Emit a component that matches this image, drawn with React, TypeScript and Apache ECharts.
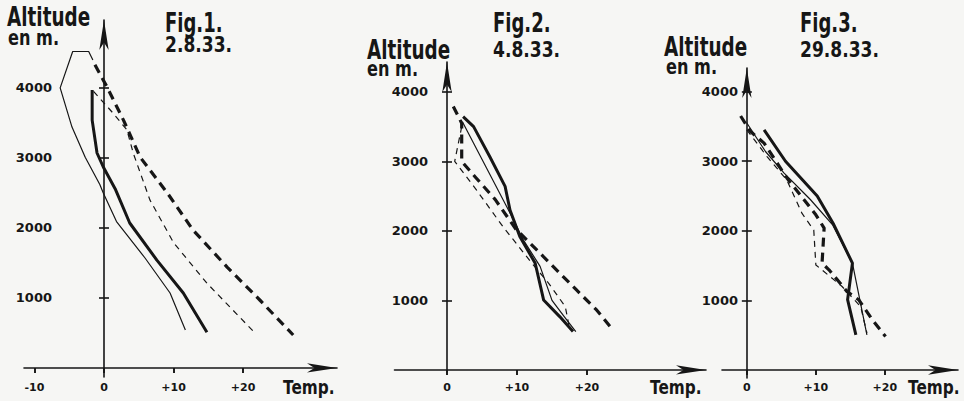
import React, { useEffect, useRef } from 'react';
import * as echarts from 'echarts';

// ---------- data (temperature °C, altitude m) ----------
const FIG1_THIN_SOLID = [[11.7, 540], [9.5, 1070], [5.9, 1570], [1.8, 2090], [-0.1, 2500], [-0.6, 2620], [-2.7, 3010], [-4.6, 3440], [-6.3, 4000], [-4.5, 4520], [-2.2, 4520], [-1.6, 4400]];
const FIG1_THICK_SOLID = [[14.8, 510], [11.4, 1070], [7.6, 1540], [3.7, 2070], [1.6, 2560], [-0.1, 2870], [-1.0, 3070], [-1.7, 3540], [-1.7, 3970]];
const FIG1_THIN_DASHED = [[-1.5, 3950], [1.3, 3640], [3.3, 3400], [4.2, 3070], [6.6, 2400], [10.0, 1790], [14.8, 1210], [21.7, 500]];
const FIG1_THICK_DASHED = [[-1.3, 4330], [0.4, 4020], [2.8, 3540], [5.2, 3010], [9.1, 2500], [12.8, 1970], [17.7, 1440], [22.4, 970], [27.2, 470]];

const FIG2_THIN_SOLID = [[2.2, 3570], [9.5, 2160], [10.9, 1870], [13.3, 1490], [15.0, 1000], [16.8, 760], [18.4, 550]];
const FIG2_THICK_SOLID = [[2.3, 3645], [3.8, 3500], [6.1, 3070], [8.3, 2640], [9.0, 2300], [10.4, 1920], [12.6, 1535], [13.8, 1007], [16.1, 767], [18.0, 551]];
const FIG2_THIN_DASHED = [[2.1, 3500], [1.1, 3000], [4.2, 2590], [8.0, 2060], [9.5, 1870], [12.0, 1550], [14.5, 1250], [16.9, 910], [17.5, 600]];
const FIG2_THICK_DASHED = [[0.9, 3790], [2.1, 3550], [2.1, 3000], [4.0, 2780], [6.9, 2450], [9.8, 2030], [11.4, 1870], [14.7, 1535], [18.5, 1150], [21.4, 860], [23.5, 600]];

const FIG3_THIN_SOLID = [[0.0, 3550], [2.7, 3140], [5.4, 2830], [9.2, 2450], [12.4, 2090], [15.3, 1535], [17.4, 505]];
const FIG3_THICK_SOLID = [[2.5, 3450], [5.6, 3000], [10.2, 2500], [12.6, 2090], [15.3, 1535], [14.6, 1010], [15.8, 505]];
const FIG3_THIN_DASHED = [[0.0, 3450], [2.9, 3070], [5.8, 2730], [8.0, 2250], [9.7, 2010], [10.0, 1510], [13.8, 1200], [16.5, 910], [17.4, 530]];
const FIG3_THICK_DASHED = [[-0.9, 3650], [0.5, 3430], [2.5, 3260], [5.8, 2760], [10.0, 2230], [11.2, 2040], [10.9, 1535], [11.9, 1440], [14.5, 1130], [16.2, 1010], [18.2, 720], [20.1, 480]];

const X_TICKS_FIG1 = [-10, 0, 10, 20];
const X_TICKS_FIG23 = [0, 10, 20];
const Y_TICKS = [1000, 2000, 3000, 4000];

const FIG_TITLES = ['Fig.1.', 'Fig.2.', 'Fig.3.'];
const FIG_DATES = ['2.8.33.', '4.8.33.', '29.8.33.'];
const Y_NAME = 'Altitude';
const Y_UNIT = 'en m.';
const X_NAME = 'Temp.';

const INK = '#161616';
const FONT = "'DejaVu Sans', sans-serif";

type Panel = {
  grid: { left: number; top: number; width: number; height: number };
  xMin: number; xMax: number; yMin: number; yMax: number;
  xTicks: number[]; yLabelMargin: number; xLabelMargin: number;
  series: { thinSolid: number[][]; thickSolid: number[][]; thinDashed: number[][]; thickDashed: number[][] };
  text: { alt: [number, number]; unit: [number, number]; fig: [number, number]; date: [number, number]; temp: [number, number] };
};

const PANELS: Panel[] = [
  {
    grid: { left: 24, top: 20, width: 313, height: 357 },
    xMin: -11.5, xMax: 33.5, yMin: -130, yMax: 4970,
    xTicks: X_TICKS_FIG1, yLabelMargin: -28, xLabelMargin: 5,
    series: { thinSolid: FIG1_THIN_SOLID, thickSolid: FIG1_THICK_SOLID, thinDashed: FIG1_THIN_DASHED, thickDashed: FIG1_THICK_DASHED },
    text: { alt: [7, 4], unit: [8, 27], fig: [165, 10], date: [165, 34.5], temp: [283, 378] },
  },
  {
    grid: { left: 394.5, top: 62, width: 311.5, height: 310 },
    xMin: -7.5, xMax: 37, yMin: -30, yMax: 4430,
    xTicks: X_TICKS_FIG23, yLabelMargin: -33.5, xLabelMargin: 10,
    series: { thinSolid: FIG2_THIN_SOLID, thickSolid: FIG2_THICK_SOLID, thinDashed: FIG2_THIN_DASHED, thickDashed: FIG2_THICK_DASHED },
    text: { alt: [367, 37], unit: [367, 58], fig: [493, 10], date: [493, 39.5], temp: [650, 378] },
  },
  {
    grid: { left: 722, top: 68, width: 236, height: 310 },
    xMin: -3.6, xMax: 30.6, yMin: -115, yMax: 4340,
    xTicks: X_TICKS_FIG23, yLabelMargin: -16, xLabelMargin: 4,
    series: { thinSolid: FIG3_THIN_SOLID, thickSolid: FIG3_THICK_SOLID, thinDashed: FIG3_THIN_DASHED, thickDashed: FIG3_THICK_DASHED },
    text: { alt: [664, 34], unit: [666, 56], fig: [800, 10], date: [800, 39.5], temp: [908, 378] },
  },
];

function buildOption() {
  const grids: any[] = [];
  const xAxes: any[] = [];
  const yAxes: any[] = [];
  const series: any[] = [];
  const graphics: any[] = [];
  const axisLineStyle = { color: INK, width: 1.6 };

  PANELS.forEach((p, i) => {
    grids.push({ ...p.grid, containLabel: false, outerBoundsMode: 'none' });
    const xCommon = { type: 'value', gridIndex: i, min: p.xMin, max: p.xMax, splitLine: { show: false } };
    xAxes.push({
      ...xCommon,
      axisLine: { show: true, onZero: true, symbol: ['none', 'arrow'], symbolSize: [7, 30], lineStyle: axisLineStyle },
      axisTick: { show: true, length: 5, customValues: p.xTicks, lineStyle: { color: INK, width: 1.6 } },
      axisLabel: {
        show: true, customValues: p.xTicks, margin: p.xLabelMargin, color: INK, fontSize: 11, fontWeight: 'bold', fontFamily: FONT,
        formatter: (v: number) => (v > 0 ? '+' + v : String(v)),
      },
    });
    xAxes.push({
      ...xCommon,
      axisLine: { show: false, onZero: true },
      axisTick: { show: true, inside: true, length: 5, customValues: p.xTicks, lineStyle: { color: INK, width: 1.6 } },
      axisLabel: { show: false },
    });
    const yCommon = { type: 'value', gridIndex: i, min: p.yMin, max: p.yMax, position: 'left', splitLine: { show: false } };
    yAxes.push({
      ...yCommon,
      axisLine: { show: true, onZero: true, symbol: ['none', 'arrow'], symbolSize: [7, 30], lineStyle: axisLineStyle },
      axisTick: { show: true, length: 5, customValues: Y_TICKS, lineStyle: { color: INK, width: 1.6 } },
      axisLabel: {
        show: true, customValues: Y_TICKS, margin: p.yLabelMargin, color: INK, fontSize: 13, fontWeight: 'bold', fontFamily: FONT,
        formatter: (v: number) => String(v),
      },
    });
    yAxes.push({
      ...yCommon,
      axisLine: { show: false, onZero: true },
      axisTick: { show: true, inside: true, length: 5, customValues: Y_TICKS, lineStyle: { color: INK, width: 1.6 } },
      axisLabel: { show: false },
    });

    const mk = (data: number[][], width: number, type: any) => ({
      type: 'line', xAxisIndex: 2 * i, yAxisIndex: 2 * i, data, symbol: 'none', showSymbol: false,
      lineStyle: { color: INK, width, type, cap: 'butt', join: 'round' }, silent: true,
    });
    series.push(mk(p.series.thinSolid, 1.2, 'solid'));
    series.push(mk(p.series.thickSolid, 3, 'solid'));
    series.push(mk(p.series.thinDashed, 1.2, [6, 5]));
    series.push(mk(p.series.thickDashed, 3.2, [9, 6]));

    const t = (s: string, pos: [number, number], size: number, sx: number, sy: number) => ({
      type: 'text', x: pos[0], y: pos[1], scaleX: sx, scaleY: sy, silent: true,
      style: { text: s, fill: INK, fontSize: size, fontWeight: 'bold', fontFamily: FONT, textAlign: 'left', textVerticalAlign: 'top' },
    });
    graphics.push(t(Y_NAME, p.text.alt, 20, 0.92, 1.3));
    graphics.push(t(Y_UNIT, p.text.unit, 17, 0.95, 1.3));
    graphics.push(t(FIG_TITLES[i], p.text.fig, 20, 0.9, 1.3));
    graphics.push(t(FIG_DATES[i], p.text.date, 18, 0.95, 1.15));
    graphics.push(t(X_NAME, p.text.temp, 17, 0.9, 1.15));
  });

  return {
    animation: false,
    backgroundColor: '#f6f6f4',
    grid: grids,
    xAxis: xAxes,
    yAxis: yAxes,
    series,
    graphic: graphics,
  };
}

export default function App() {
  const ref = useRef<HTMLDivElement>(null);
  useEffect(() => {
    if (!ref.current) return;
    const chart = echarts.init(ref.current, null, { renderer: 'svg' });
    chart.setOption(buildOption() as any);
    return () => chart.dispose();
  }, []);
  return <div ref={ref} style={{ position: 'fixed', left: 0, top: 0, width: 964, height: 401 }} />;
}
